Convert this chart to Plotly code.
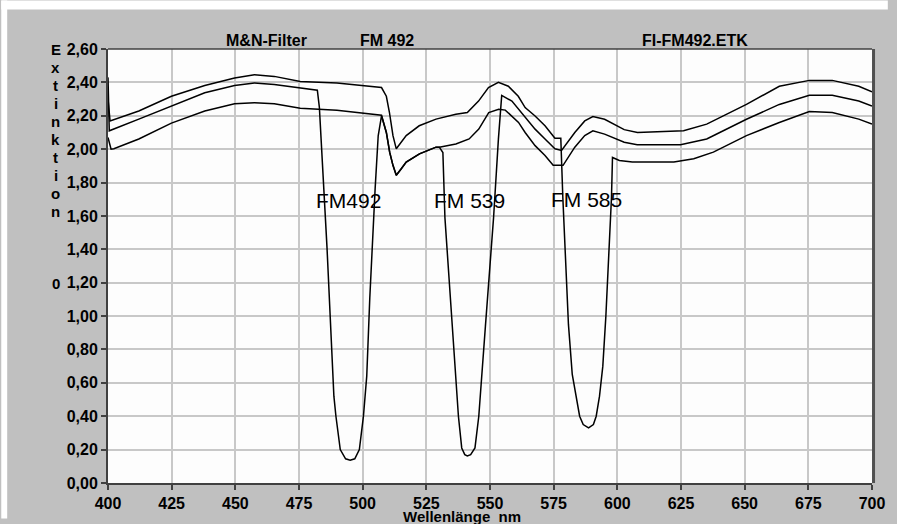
import plotly.graph_objects as go

# ---------------- data ----------------
fm492_wl = [400.0, 400.5, 412.1, 424.9, 438.0, 449.7, 457.5, 465.3, 475.5, 482.2,
            483.0, 486.0, 488.7, 489.5, 491.2, 493.3, 495.1, 496.9, 498.7, 500.3,
            501.6, 502.8, 504.9, 506.1, 507.4, 509.3, 510.6, 511.9, 513.2, 515.2,
            517.1, 522.3, 528.8, 530.1, 536.6, 541.8, 545.6, 549.5, 553.4, 556.0,
            561.2, 563.8, 567.7, 571.6, 574.8, 578.7, 583.3, 587.2, 590.4, 595.0,
            602.7, 607.8, 624.8, 635.1, 650.7, 663.6, 675.4, 684.4, 694.8, 700.0]
fm492_ext = [2.43, 2.11, 2.18, 2.258, 2.338, 2.381, 2.397, 2.387, 2.367, 2.353,
             2.25, 1.41, 0.52, 0.40, 0.20, 0.145, 0.136, 0.145, 0.20, 0.40,
             0.64, 1.11, 1.765, 2.08, 2.20, 2.10, 1.982, 1.903, 1.844, 1.883,
             1.923, 1.972, 2.012, 2.012, 2.031, 2.061, 2.12, 2.219, 2.239, 2.234,
             2.16, 2.10, 2.021, 1.962, 1.903, 1.903, 2.012, 2.081, 2.11, 2.09,
             2.041, 2.027, 2.027, 2.061, 2.179, 2.268, 2.323, 2.323, 2.288, 2.258]

fm539_wl = [400.0, 401.2, 402.3, 412.1, 424.9, 438.0, 449.7, 457.5, 465.3, 475.5,
            489.9, 497.7, 507.4, 509.3, 510.6, 511.9, 513.2, 515.2, 517.1, 522.3,
            528.8, 530.1, 531.5, 532.3, 535.0, 537.6, 538.9, 540.1, 541.1, 542.4,
            544.1, 545.6, 548.2, 551.4, 553.3, 554.6, 558.6, 563.8, 567.7, 571.6,
            575.5, 578.1, 583.3, 587.2, 590.4, 595.0, 602.7, 607.9, 626.0, 635.1,
            650.7, 663.6, 675.4, 684.4, 694.8, 700.0]
fm539_ext = [2.07, 2.00, 2.002, 2.061, 2.156, 2.229, 2.272, 2.278, 2.272, 2.245,
             2.233, 2.219, 2.203, 2.10, 1.982, 1.903, 1.844, 1.883, 1.923, 1.972,
             2.012, 2.012, 1.98, 1.59, 0.995, 0.40, 0.21, 0.17, 0.162, 0.17,
             0.21, 0.40, 0.94, 1.59, 2.06, 2.322, 2.288, 2.19, 2.12, 2.061,
             2.002, 1.992, 2.10, 2.169, 2.195, 2.179, 2.117, 2.10, 2.11, 2.15,
             2.268, 2.377, 2.412, 2.412, 2.377, 2.343]

fm585_wl = [400.0, 400.8, 412.1, 424.9, 438.0, 449.7, 457.5, 465.3, 475.5, 489.9,
            507.4, 509.3, 510.5, 511.9, 513.2, 517.1, 522.2, 528.8, 536.6, 541.1,
            545.5, 549.4, 553.3, 557.2, 561.1, 563.8, 567.7, 571.6, 575.5, 577.8,
            578.6, 579.5, 580.8, 582.3, 583.9, 585.2, 586.6, 588.7, 590.6, 591.7,
            593.0, 594.3, 595.5, 596.7, 597.7, 598.1, 600.8, 605.9, 622.2, 630.0,
            637.7, 650.7, 663.6, 675.4, 684.4, 694.8, 700.0]
fm585_ext = [2.30, 2.169, 2.229, 2.317, 2.381, 2.426, 2.446, 2.436, 2.406, 2.397,
             2.369, 2.317, 2.221, 2.081, 2.002, 2.081, 2.14, 2.18, 2.209, 2.219,
             2.288, 2.369, 2.40, 2.377, 2.317, 2.249, 2.199, 2.14, 2.065, 2.065,
             1.71, 1.41, 0.95, 0.65, 0.50, 0.40, 0.35, 0.33, 0.35, 0.40,
             0.52, 0.70, 1.00, 1.35, 1.71, 1.95, 1.932, 1.923, 1.923, 1.943,
             1.982, 2.081, 2.16, 2.225, 2.219, 2.18, 2.15]

x_tick_vals = [400, 425, 450, 475, 500, 525, 550, 575, 600, 625, 650, 675, 700]
x_tick_text = ["400", "425", "450", "475", "500", "525", "550", "575", "600",
               "625", "650", "675", "700"]
y_tick_vals = [0.0, 0.2, 0.4, 0.6, 0.8, 1.0, 1.2, 1.4, 1.6, 1.8, 2.0, 2.2, 2.4, 2.6]
y_tick_text = ["0,00", "0,20", "0,40", "0,60", "0,80", "1,00", "1,20", "1,40",
               "1,60", "1,80", "2,00", "2,20", "2,40", "2,60"]

dip_labels = ["FM492", "FM 539", "FM 585"]
dip_label_x = [494.5, 542.0, 588.0]
dip_label_y = [1.69, 1.69, 1.70]

header_texts = ["M&N-Filter", "FM 492", "FI-FM492.ETK"]
y_title_letters = ["E", "x", "t", "i", "n", "k", "t", "i", "o", "n"]

# ---------------- figure ----------------
W, H = 897, 524
L, R, T, B = 108, 16, 49, 36
pw, ph = W - L - R, H - T - B


def px_x(px):
    return (px - L) / pw


def px_y(py):
    return (H - B - py) / ph


FONT = "Liberation Sans, Arial, sans-serif"
LINE = dict(color="#000000", width=1.5)

fig = go.Figure()
for wl, ext, name in [(fm492_wl, fm492_ext, "FM492"),
                      (fm539_wl, fm539_ext, "FM539"),
                      (fm585_wl, fm585_ext, "FM585")]:
    fig.add_trace(go.Scatter(x=wl, y=ext, mode="lines", line=LINE, name=name,
                             showlegend=False, hoverinfo="skip"))

WHITE = "#FFFFFF"
shapes = [
    # white outer strips (top and left) around the gray window
    dict(type="rect", xref="paper", yref="paper", x0=px_x(0), x1=px_x(W),
         y0=px_y(9), y1=px_y(0), fillcolor=WHITE, line=dict(width=0)),
    dict(type="rect", xref="paper", yref="paper", x0=px_x(0), x1=px_x(6),
         y0=px_y(H), y1=px_y(0), fillcolor=WHITE, line=dict(width=0)),
    # top border
    dict(type="line", xref="paper", yref="paper", x0=0, x1=1, y0=1, y1=1,
         line=dict(color="#404040", width=1.5)),
    # right border
    dict(type="line", xref="paper", yref="paper", x0=1.002, x1=1.002, y0=0, y1=1,
         line=dict(color="#505050", width=3)),
]

annotations = []
for txt, xx, yy in zip(dip_labels, dip_label_x, dip_label_y):
    annotations.append(dict(x=xx, y=yy, xref="x", yref="y", text=txt,
                            showarrow=False, xanchor="center", yanchor="middle",
                            font=dict(family=FONT, size=21, color="#000000")))

for txt, cx in zip(header_texts, [268, 390, 702]):
    annotations.append(dict(x=px_x(cx), y=px_y(40), xref="paper", yref="paper",
                            text=txt, showarrow=False, xanchor="center",
                            yanchor="middle",
                            font=dict(family=FONT, size=16, color="#000000",
                                      weight="bold")))

for i, ch in enumerate(y_title_letters):
    annotations.append(dict(x=px_x(55), y=px_y(49 + i * 18.3), xref="paper",
                            yref="paper", text=ch, showarrow=False,
                            xanchor="center", yanchor="middle",
                            font=dict(family=FONT, size=15, color="#000000",
                                      weight="bold")))
annotations.append(dict(x=px_x(55), y=px_y(286), xref="paper", yref="paper",
                        text="0", showarrow=False, xanchor="center",
                        yanchor="middle",
                        font=dict(family=FONT, size=15, color="#000000",
                                  weight="bold")))
annotations.append(dict(x=px_x(466), y=px_y(533), xref="paper", yref="paper",
                        text="Wellenlänge\u00a0\u00a0nm", showarrow=False,
                        xanchor="center", yanchor="bottom",
                        font=dict(family=FONT, size=15, color="#000000",
                                  weight="bold")))

fig.update_layout(
    width=W, height=H,
    margin=dict(l=L, r=R, t=T, b=B, pad=0),
    paper_bgcolor="#C0C0C0",
    plot_bgcolor="#FDFDFD",
    shapes=shapes,
    annotations=annotations,
    showlegend=False,
)
fig.update_xaxes(range=[400, 700], tickvals=x_tick_vals, ticktext=x_tick_text,
                 showgrid=True, gridcolor="#C8C8C8", gridwidth=1.5,
                 zeroline=False, showline=True, linecolor="#404040", linewidth=2,
                 ticks="outside", ticklen=5, tickwidth=1.5, tickcolor="#404040",
                 tickfont=dict(family=FONT, size=16, color="#000000",
                               weight="bold"))
fig.update_yaxes(range=[0, 2.6], tickvals=y_tick_vals, ticktext=y_tick_text,
                 showgrid=True, gridcolor="#C8C8C8", gridwidth=1.5,
                 zeroline=False, showline=True, linecolor="#404040", linewidth=2,
                 ticks="outside", ticklen=5, tickwidth=1.5, tickcolor="#404040",
                 tickfont=dict(family=FONT, size=16, color="#000000",
                               weight="bold"))

fig.write_html("out.html")
